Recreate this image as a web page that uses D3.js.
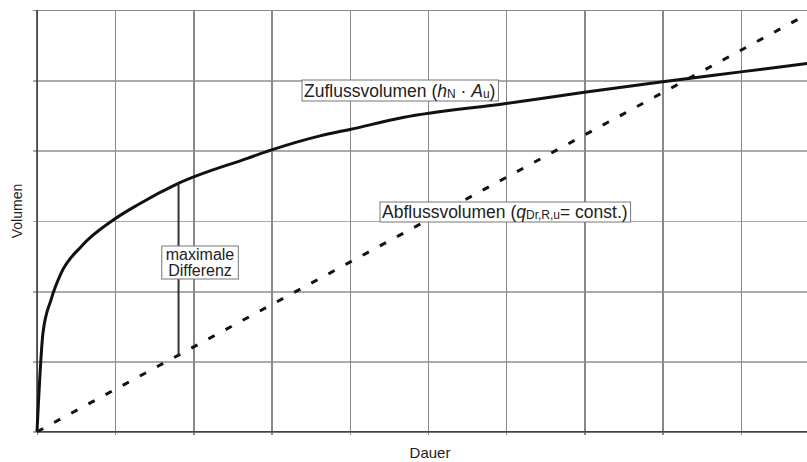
<!DOCTYPE html>
<html>
<head>
<meta charset="utf-8">
<script src="https://cdn.jsdelivr.net/npm/d3@7"></script>
<style>
  body { margin: 0; background: #fff; overflow: hidden; }
  svg { display: block; font-family: "Liberation Sans", Arial, sans-serif; }
  .grid line { shape-rendering: crispEdges; }
</style>
</head>
<body>
<div id="chart"></div>
<script>
// data (x = Dauer in grid units, y = Volumen in grid units)
var dauer   = [0, 0.077, 0.18, 0.31, 0.56, 0.985, 1.29, 1.80, 2.69, 3.0, 3.62, 4.0, 4.68, 6.0, 7.0, 8.0, 9.0, 10];
var zufluss = [0, 1.41, 1.88, 2.26, 2.63, 3.02, 3.23, 3.53, 3.89, 4.01, 4.21, 4.30, 4.47, 4.67, 4.83, 4.98, 5.12, 5.26];
var dauerAbfluss = [0, 10];
var abfluss      = [0, 6.03];
var maxDiffDauer = 1.81;
var xTicks = [0, 1, 2, 3, 4, 5, 6, 7, 8, 9, 10];
var yTicks = [0, 1, 2, 3, 4, 5, 6];

var W = 807, H = 462;
var margin = {top: 10, left: 37, right: -12, bottom: 30};
var width = W - margin.left - margin.right,
    height = H - margin.top - margin.bottom - 0.2;

var svg = d3.select('#chart').append('svg').attr('width', W).attr('height', H);
var g = svg.append('g').attr('transform', 'translate(' + margin.left + ',' + margin.top + ')');

var x = d3.scaleLinear().domain([0, 10]).range([0, width]);
var y = d3.scaleLinear().domain([0, 6]).range([height, 0]);

//horizontal grid + left ticks
var yGrid = g.append('g').attr('class', 'grid')
  .call(d3.axisLeft(y).tickValues(yTicks).tickSize(-width).tickFormat(''));
yGrid.select('.domain').remove();
yGrid.selectAll('.tick line').attr('stroke', '#aaa').attr('stroke-width', 1.8).attr('x1', -4);
yGrid.selectAll('.tick').filter(function(d) { return d === 6; }).select('line').attr('stroke', '#888');

//vertical grid + bottom ticks
var xGrid = g.append('g').attr('class', 'grid').attr('transform', 'translate(0,' + height + ')')
  .call(d3.axisBottom(x).tickValues(xTicks).tickSize(-height).tickFormat(''));
xGrid.select('.domain').remove();
xGrid.selectAll('.tick line').attr('stroke', '#888').attr('stroke-width', 1.3).attr('y1', 3);

//axes lines
g.append('line').attr('x1', 0).attr('x2', 0).attr('y1', y(0)).attr('y2', y(6))
  .attr('stroke', '#333').attr('stroke-width', 1.5);
g.append('line').attr('x1', 0).attr('x2', width).attr('y1', y(0)).attr('y2', y(0))
  .attr('stroke', '#444').attr('stroke-width', 1.5);

var line = d3.line()
  .x(function(d) { return x(d[0]); })
  .y(function(d) { return y(d[1]); });

//Abfluss dashed
g.append('path')
  .datum(d3.zip(dauerAbfluss, abfluss))
  .attr('d', line)
  .attr('fill', 'none').attr('stroke', '#111').attr('stroke-width', 3)
  .attr('stroke-dasharray', '7,12.5');

//Zufluss solid
g.append('path')
  .datum(d3.zip(dauer, zufluss))
  .attr('d', line.curve(d3.curveMonotoneX))
  .attr('fill', 'none').attr('stroke', '#111').attr('stroke-width', 3)
  .attr('stroke-linejoin', 'round');

//max difference line
var zAt = d3.scaleLinear().domain(dauer).range(zufluss);
var aAt = d3.scaleLinear().domain(dauerAbfluss).range(abfluss);
g.append('line')
  .attr('x1', x(maxDiffDauer)).attr('x2', x(maxDiffDauer))
  .attr('y1', y(zAt(maxDiffDauer))).attr('y2', y(aAt(maxDiffDauer)))
  .attr('stroke', '#333').attr('stroke-width', 2);

//boxed labels
function boxLabel(px, py, build, pad) {
  var lg = svg.append('g');
  var rect = lg.append('rect');
  var t = lg.append('text').attr('x', px).attr('y', py).attr('fill', '#222');
  build(t);
  var b = t.node().getBBox();
  rect.attr('x', b.x - pad[0]).attr('y', b.y - pad[1])
    .attr('width', b.width + pad[0] + pad[2]).attr('height', b.height + pad[1] + pad[3])
    .attr('fill', '#fff').attr('stroke', '#777').attr('stroke-width', 1);
}

boxLabel(304, 97, function(t) {
  t.attr('font-size', 17.5);
  t.append('tspan').text('Zuflussvolumen (');
  t.append('tspan').attr('font-style', 'italic').text('h');
  t.append('tspan').attr('font-size', 12).attr('dy', 1).text('N');
  t.append('tspan').attr('dy', -1).text(' \u00b7 ');
  t.append('tspan').attr('font-style', 'italic').text('A');
  t.append('tspan').attr('font-size', 12).attr('dy', 1).text('u');
  t.append('tspan').attr('dy', -1).text(')');
}, [2, 1, 3, 0]);

boxLabel(382, 218, function(t) {
  t.attr('font-size', 17.5);
  t.append('tspan').text('Abflussvolumen (');
  t.append('tspan').attr('font-style', 'italic').text('q');
  t.append('tspan').attr('font-size', 12).attr('dy', 1).text('Dr,R,u');
  t.append('tspan').attr('dy', -1).text('= const.)');
}, [2, 0, 3, 0]);

boxLabel(200, 260, function(t) {
  t.attr('font-size', 16).attr('text-anchor', 'middle');
  t.append('tspan').attr('x', 200).text('maximale');
  t.append('tspan').attr('x', 200).attr('dy', 16).text('Differenz');
}, [4, 0, 4, 0]);

//axis titles
svg.append('text').attr('x', 430).attr('y', 458).attr('text-anchor', 'middle')
  .attr('font-size', 15).attr('fill', '#222').text('Dauer');
svg.append('text').attr('transform', 'translate(22,211) rotate(-90)').attr('text-anchor', 'middle')
  .attr('font-size', 14).attr('fill', '#222').text('Volumen');
</script>
</body>
</html>
